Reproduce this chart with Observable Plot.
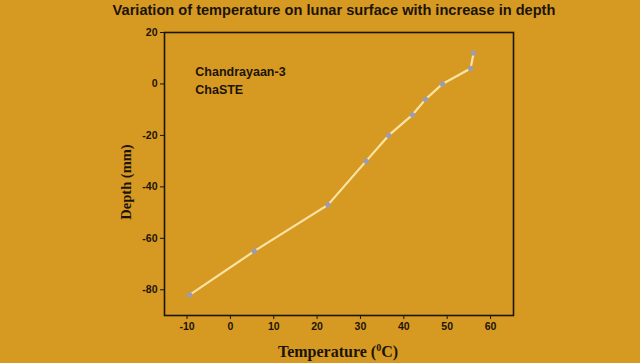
<!DOCTYPE html>
<html><head><meta charset="utf-8">
<script src="https://cdn.jsdelivr.net/npm/d3@7"></script>
<script src="https://cdn.jsdelivr.net/npm/@observablehq/plot@0.6"></script>
<style>
html,body{margin:0;padding:0;background:#D69A22;}
svg{display:block;}
</style></head>
<body><div id="chart"></div>
<script>
const temperature = [56.1, 55.4, 48.9, 45.0, 42.0, 36.5, 31.3, 22.5, 5.5, -9.4];
const depth = [12, 6, 0, -6, -12, -20, -30, -47, -65, -82];
const xTicks = [-10, 0, 10, 20, 30, 40, 50, 60];
const yTicks = [-80, -60, -40, -20, 0, 20];
const title = "Variation of temperature on lunar surface with increase in depth";
const note = ["Chandrayaan-3", "ChaSTE"];

const data = temperature.map((t, i) => ({t, d: depth[i]}));
const ink = "#1c1408";

const plot = Plot.plot({
  width: 640, height: 363,
  marginLeft: 164, marginRight: 127, marginTop: 32, marginBottom: 48,
  style: {background: "#D69A22", color: ink, fontFamily: "Liberation Sans, Arial, sans-serif", fontSize: "10.5px", fontWeight: "bold"},
  x: {domain: [-15.2, 65.3], ticks: xTicks, tickSize: 4, tickPadding: 3, label: null, tickFormat: d => String(d)},
  y: {domain: [-90, 20], ticks: yTicks, tickSize: 4, tickPadding: 3, label: null, tickFormat: d => String(d)},
  marks: [
    Plot.frame({stroke: ink, strokeWidth: 1.6}),
    Plot.line(data, {x: "t", y: "d", stroke: "#FBE3A6", strokeWidth: 2.2}),
    Plot.dot(data, {x: "t", y: "d", r: 2.7, fill: "#9C9CB2", stroke: "none"}),
    Plot.text(note, {x: -8.1, y: [4.7, -2.3], text: d => d, textAnchor: "start", fontSize: 12.5, fontWeight: "bold", fill: ink})
  ]
});
document.getElementById("chart").appendChild(plot);
const svg = d3.select(plot);
svg.append("text").attr("x", 334).attr("y", 15).attr("text-anchor", "middle")
  .attr("font-family", "Liberation Sans, Arial, sans-serif").attr("font-weight", "bold").attr("font-size", 14.6)
  .attr("fill", ink).text(title);
svg.append("text").attr("transform", "translate(131,182) rotate(-90)").attr("text-anchor", "middle")
  .attr("font-family", "Liberation Serif, Times New Roman, serif").attr("font-weight", "bold").attr("font-size", 14.5)
  .attr("fill", ink).text("Depth (mm)");
const xl = svg.append("text").attr("x", 338).attr("y", 357).attr("text-anchor", "middle")
  .attr("font-family", "Liberation Serif, Times New Roman, serif").attr("font-weight", "bold").attr("font-size", 16)
  .attr("fill", ink);
xl.append("tspan").text("Temperature (");
xl.append("tspan").attr("font-size", 10).attr("dy", -6).text("0");
xl.append("tspan").attr("dy", 6).text("C)");
</script></body></html>
